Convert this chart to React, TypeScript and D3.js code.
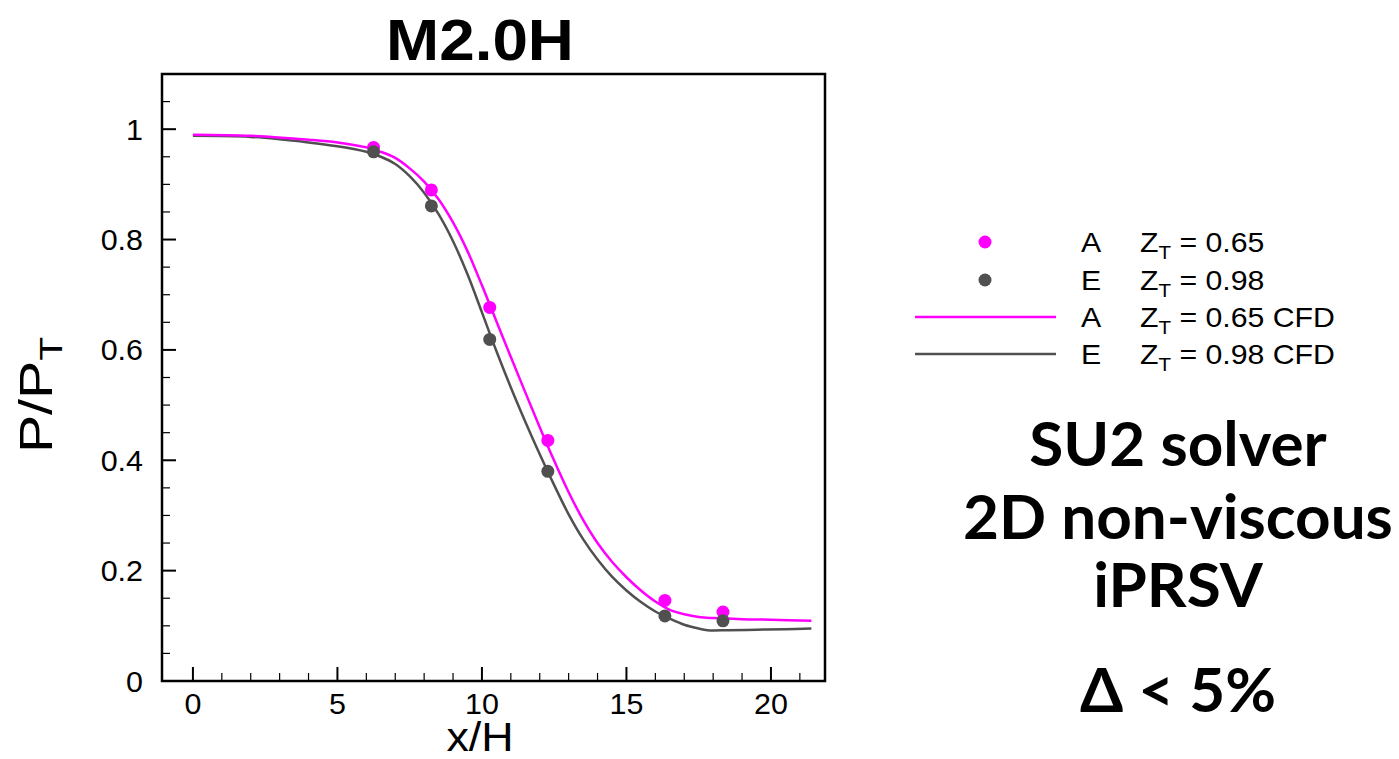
import React from "react";
import * as d3 from "d3";

// Experimental pressure taps (x/H)
const expX = [6.25, 8.25, 10.27, 12.28, 16.33, 18.34];
const expA = [0.967, 0.890, 0.677, 0.436, 0.146, 0.125];
const expE = [0.959, 0.861, 0.619, 0.380, 0.118, 0.109];

// CFD wall pressure, fluid A (Z_T = 0.65)
const cfdAX = [0, 2, 4, 5, 6, 6.5, 7, 7.5, 8, 8.5, 9, 9.5, 10, 10.5, 11, 11.5, 12, 12.5, 13, 13.5, 14, 14.5, 15, 15.5, 16, 16.5, 17, 17.5, 18, 19, 20, 21.4];
const cfdAY = [0.990, 0.988, 0.981, 0.976, 0.967, 0.959, 0.948, 0.929, 0.905, 0.873, 0.831, 0.779, 0.717, 0.652, 0.587, 0.523, 0.460, 0.399, 0.342, 0.292, 0.250, 0.216, 0.188, 0.164, 0.144, 0.129, 0.121, 0.116, 0.114, 0.112, 0.111, 0.109];

// CFD wall pressure, fluid E (Z_T = 0.98)
const cfdEX = [0, 2, 4, 5, 6, 6.5, 7, 7.5, 8, 8.5, 9, 9.5, 10, 10.5, 11, 11.5, 12, 12.5, 13, 13.5, 14, 14.5, 15, 15.5, 16, 16.5, 17, 17.5, 17.8, 18.5, 19.5, 20.5, 21.4];
const cfdEY = [0.988, 0.986, 0.976, 0.969, 0.959, 0.950, 0.937, 0.915, 0.885, 0.846, 0.797, 0.737, 0.668, 0.598, 0.532, 0.470, 0.411, 0.355, 0.302, 0.257, 0.220, 0.189, 0.164, 0.143, 0.126, 0.113, 0.102, 0.095, 0.092, 0.092, 0.093, 0.094, 0.095];

const xMajor = [0, 5, 10, 15, 20];
const yMajor = [0, 0.2, 0.4, 0.6, 0.8, 1];
const yLabels = ["0", "0.2", "0.4", "0.6", "0.8", "1"];

const legendRows = [
  { fluid: "A", z: "0.65", cfd: false },
  { fluid: "E", z: "0.98", cfd: false },
  { fluid: "A", z: "0.65", cfd: true },
  { fluid: "E", z: "0.98", cfd: true },
];

const notes = ["SU2 solver", "2D non-viscous", "iPRSV"];
const deltaNote = "Δ < 5%";

const MAGENTA = "#ff00ff";
const GRAY = "#505050";

const W = 1399;
const H = 759;
const plot = { left: 162, right: 825, top: 74, bottom: 681 };

const FONT = "'Liberation Sans', Arial, Helvetica, sans-serif";
const NOTE_FONT = "Lato, 'Noto Sans', sans-serif";

function SText({ x, y, children, size, anchor = "start", weight = "normal", sx = 1.1 }: any) {
  return (
    <text
      transform={`translate(${x},${y}) scale(${sx},1)`}
      fontSize={size}
      fontFamily={FONT}
      fontWeight={weight}
      textAnchor={anchor}
      fill="#000"
    >
      {children}
    </text>
  );
}

export default function App() {
  const x = d3.scaleLinear().domain([-1.07, 21.87]).range([plot.left, plot.right]);
  const y = d3.scaleLinear().domain([0, 1.1]).range([plot.bottom, plot.top]);

  const line = d3
    .line<[number, number]>()
    .x((d) => x(d[0]))
    .y((d) => y(d[1]))
    .curve(d3.curveCatmullRom.alpha(0.5));

  const ptsA = cfdAX.map((v, i) => [v, cfdAY[i]] as [number, number]);
  const ptsE = cfdEX.map((v, i) => [v, cfdEY[i]] as [number, number]);

  const xMinor = d3.range(0, 22, 1).filter((v) => v % 5 !== 0);
  const yMinor = d3
    .range(0, 1.1, 0.05)
    .map((v) => +v.toFixed(2))
    .filter((v) => Math.abs(v / 0.2 - Math.round(v / 0.2)) > 1e-6);

  const legX = 985;
  const legRowsY = [242, 280, 317, 354];

  return (
    <svg width={W} height={H} style={{ position: "absolute", left: 0, top: 0, background: "#fff" }}>
      <rect x={0} y={0} width={W} height={H} fill="#fff" />

      {/* title */}
      <SText x={480} y={60} size={58} anchor="middle" weight="bold" sx={1.1}>
        M2.0H
      </SText>

      {/* CFD curves */}
      <path d={line(ptsE) || ""} fill="none" stroke={GRAY} strokeWidth={2.5} />
      <path d={line(ptsA) || ""} fill="none" stroke={MAGENTA} strokeWidth={2.5} />

      {/* experimental points */}
      {expX.map((v, i) => (
        <circle key={"a" + i} cx={x(v)} cy={y(expA[i])} r={6.5} fill={MAGENTA} />
      ))}
      {expX.map((v, i) => (
        <circle key={"e" + i} cx={x(v)} cy={y(expE[i])} r={6.5} fill={GRAY} />
      ))}

      {/* ticks */}
      {xMajor.map((v) => (
        <line key={"xM" + v} x1={x(v)} x2={x(v)} y1={plot.bottom} y2={plot.bottom - 14} stroke="#000" strokeWidth={2} />
      ))}
      {xMinor.map((v) => (
        <line key={"xm" + v} x1={x(v)} x2={x(v)} y1={plot.bottom} y2={plot.bottom - 8} stroke="#000" strokeWidth={1.2} />
      ))}
      {yMajor.map((v) => (
        <line key={"yM" + v} x1={plot.left} x2={plot.left + 14} y1={y(v)} y2={y(v)} stroke="#000" strokeWidth={2} />
      ))}
      {yMinor.map((v) => (
        <line key={"ym" + v} x1={plot.left} x2={plot.left + 8} y1={y(v)} y2={y(v)} stroke="#000" strokeWidth={1.2} />
      ))}

      {/* frame */}
      <rect
        x={plot.left}
        y={plot.top}
        width={plot.right - plot.left}
        height={plot.bottom - plot.top}
        fill="none"
        stroke="#000"
        strokeWidth={2.5}
      />

      {/* tick labels */}
      {xMajor.map((v) => (
        <SText key={"xl" + v} x={x(v)} y={714} size={29} anchor="middle" sx={1.05}>
          {String(v)}
        </SText>
      ))}
      {yMajor.map((v, i) => (
        <SText key={"yl" + v} x={143} y={y(v) + 10.5} size={29} anchor="end" sx={1.05}>
          {yLabels[i]}
        </SText>
      ))}

      {/* axis titles */}
      <SText x={480} y={751} size={40} anchor="middle" sx={1.12}>
        x/H
      </SText>
      <g transform={`translate(52,395) rotate(-90)`}>
        <text fontSize={47} fontFamily={FONT} textAnchor="middle" transform="scale(1.22,1)">
          P/P
          <tspan fontSize={32} dy={10}>T</tspan>
        </text>
      </g>

      {/* legend */}
      {legendRows.map((r, i) => {
        const cy = legRowsY[i];
        const color = r.fluid === "A" ? MAGENTA : GRAY;
        return (
          <g key={"lg" + i}>
            {r.cfd ? (
              <line x1={915} x2={1056} y1={cy} y2={cy} stroke={color} strokeWidth={2.5} />
            ) : (
              <circle cx={legX} cy={cy} r={6.5} fill={color} />
            )}
            <SText x={1081} y={cy + 10} size={28} sx={1.08}>
              {r.fluid}
            </SText>
            <SText x={1140} y={cy + 10} size={28} sx={1.08}>
              Z
              <tspan fontSize={19} dy={7}>T</tspan>
              <tspan dy={-7}>{` = ${r.z}${r.cfd ? " CFD" : ""}`}</tspan>
            </SText>
          </g>
        );
      })}

      {/* solver notes */}
      {notes.map((t, i) => (
        <text
          key={"n" + i}
          x={1178}
          y={[466, 539, 607][i]}
          fontSize={62}
          fontFamily={NOTE_FONT}
          fontWeight={700}
          textAnchor="middle"
          fill="#000"
        >
          {t}
        </text>
      ))}
      <text
        x={1178}
        y={712}
        fontSize={62}
        fontFamily={NOTE_FONT}
        fontWeight={700}
        textAnchor="middle"
        fill="#000"
      >
        {deltaNote}
      </text>
    </svg>
  );
}
